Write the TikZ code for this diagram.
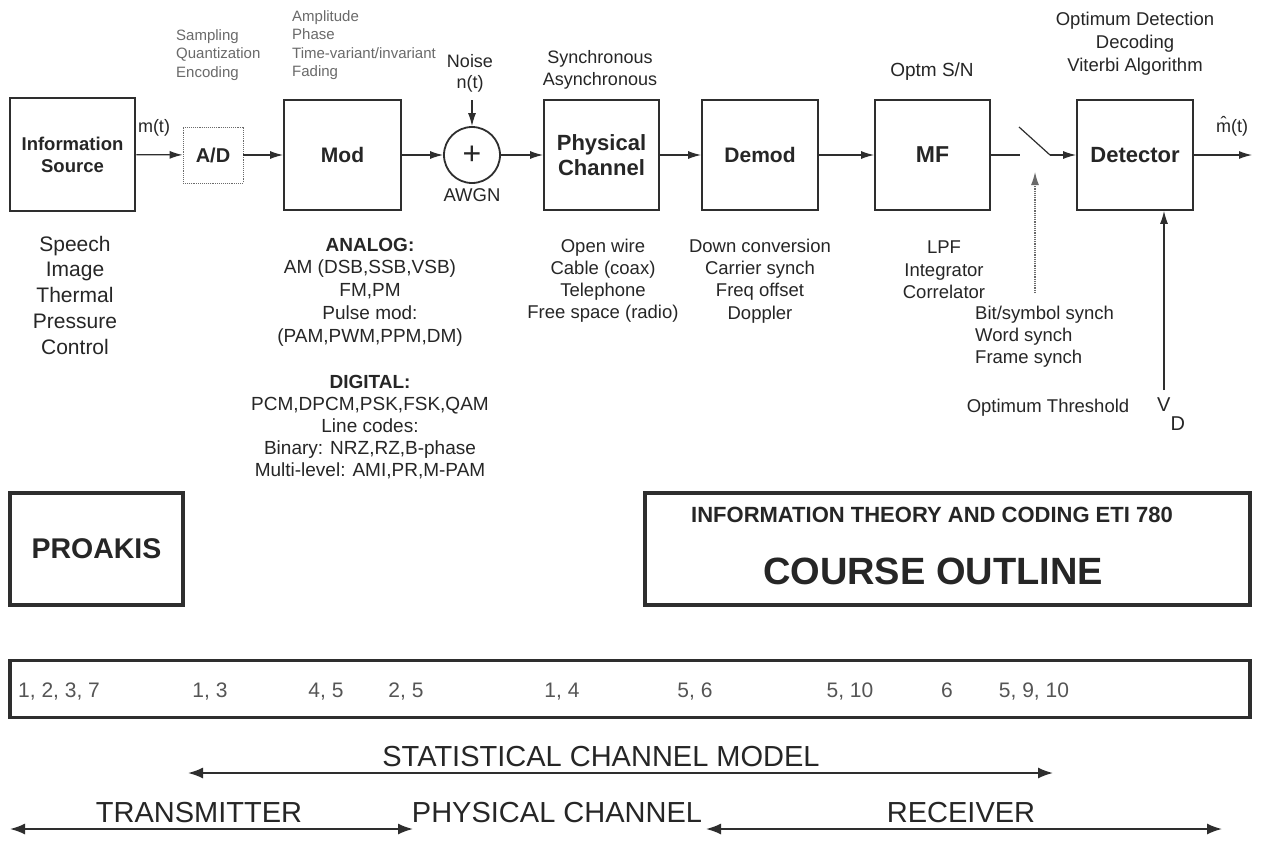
\documentclass[tikz,border=0pt]{standalone}
\usepackage{fontspec}
\setmainfont{Liberation Sans}
\usetikzlibrary{arrows.meta}
\definecolor{ln}{HTML}{2E2E2E}
\definecolor{tx}{HTML}{262626}
\definecolor{lt}{HTML}{6A6A6A}
\definecolor{md}{HTML}{555555}
\newcommand{\fsz}[2]{\fontsize{#1}{#2}\selectfont}
\begin{document}
\begin{tikzpicture}[x=1pt,y=-1pt,
 blk/.style={draw=ln,line width=1.8pt,inner sep=0pt,minimum width=116pt,minimum height=110pt,align=center,text=tx,font=\bfseries\fsz{21}{24}},
 arr/.style={draw=ln,line width=1.2pt,-{Latex[length=13pt,width=8pt]}},
 dbl/.style={draw=ln,line width=1.7pt,{Latex[length=15pt,width=11pt]}-{Latex[length=15pt,width=11pt]}},
 lbl/.style={text=tx,align=center,inner sep=0pt},
 small/.style={text=lt,align=left,inner sep=0pt,font=\fsz{15}{18.5}},
 mid/.style={lbl,font=\fsz{18.5}{22.3}},
 bigbox/.style={draw=ln,line width=3.5pt,inner sep=0pt},
 num/.style={text=md,inner sep=0pt,anchor=base,font=\fsz{21}{24}},
 caplbl/.style={text=tx,inner sep=0pt,font=\fsz{29}{32}}
]
\useasboundingbox[fill=white] (0,0) rectangle (1265,841);

% main chain
\node[blk,line width=2.8pt,minimum width=125pt,minimum height=113pt,font=\bfseries\fsz{18.5}{22}] (src) at (72.5,154.5) {Information\\Source};
\node[draw=lt,densely dotted,line width=0.9pt,minimum width=60pt,minimum height=56pt,inner sep=0pt,font=\bfseries\fsz{20}{24},text=tx] (ad) at (213,155) {A/D};
\node[blk,minimum width=117pt] (mod) at (342.5,155) {Mod};
\node[draw=ln,line width=1.8pt,circle,minimum size=56pt,inner sep=0pt,font=\fsz{32}{32},text=tx] (sum) at (472,155) {+};
\node[blk,minimum width=115pt,font=\bfseries\fsz{22}{25}] (phy) at (601.5,155) {Physical\\Channel};
\node[blk] (dem) at (760,155) {Demod};
\node[blk,minimum width=115pt,font=\bfseries\fsz{23}{26}] (mf) at (932.5,155) {MF};
\node[blk,font=\bfseries\fsz{22}{25}] (det) at (1135,155) {Detector};

\draw[arr] (src) -- (ad);
\draw[arr] (ad) -- (mod);
\draw[arr] (mod) -- (sum);
\draw[arr] (sum) -- (phy);
\draw[arr] (phy) -- (dem);
\draw[arr] (dem) -- (mf);
\coordinate (sA) at (1020,155);
\coordinate (sB) at (1019,127);
\coordinate (sC) at (1050,155);
\draw[draw=ln,line width=1.2pt] (mf) -- (sA);
\draw[draw=ln,line width=1.2pt] (sB) -- (sC);
\draw[arr] (sC) -- (det);
\coordinate (out) at (1252,155);
\draw[arr] (det) -- (out);
\coordinate (nz) at (472,100);
\draw[arr] (nz) -- (sum);
\coordinate (clk) at (1035,293);
\coordinate (clkt) at (1035,172);
\draw[arr,draw=lt,densely dotted] (clk) -- (clkt);
\coordinate (vd) at (1164,390);
\draw[arr] (vd) -- (vd |- det.south);

% labels around chain
\node[lbl,font=\fsz{18}{20}] (mt) at (154,128) {m(t)};
\node[lbl,font=\fsz{18}{20}] (mht) at (1232,126) {\^{m}(t)};
\node[small,anchor=west] (samp) at (176,55) {Sampling\\Quantization\\Encoding};
\node[small,anchor=west] (ampl) at (292,45) {Amplitude\\Phase\\Time-variant/invariant\\Fading};
\node[mid,font=\fsz{18}{22}] (sync) at (600,70) {Synchronous\\Asynchronous};
\node[mid,font=\fsz{18}{21}] (noise) at (470,73) {Noise\\n(t)};
\node[mid] (awgn) at (472,195) {AWGN};
\node[mid,font=\fsz{19}{22}] (optm) at (932,72) {Optm S/N};
\node[mid,font=\fsz{18.5}{23}] (optd) at (1135,44) {Optimum Detection\\Decoding\\Viterbi Algorithm};

\node[lbl,font=\fsz{21}{25.75}] (spch) at (75,295) {Speech\\Image\\Thermal\\Pressure\\Control};
\node[lbl,font=\fsz{19}{22.75}] (ana) at (370,292) {\textbf{ANALOG:}\\AM (DSB,SSB,VSB)\\FM,PM\\Pulse mod:\\(PAM,PWM,PPM,DM)};
\node[lbl,font=\fsz{19}{22}] (dig) at (370,427) {\textbf{DIGITAL:}\\PCM,DPCM,PSK,FSK,QAM\\Line codes:\\Binary: NRZ,RZ,B-phase\\Multi-level: AMI,PR,M-PAM};
\node[mid,font=\fsz{18.5}{22}] (chan) at (603,281) {Open wire\\Cable (coax)\\Telephone\\Free space (radio)};
\node[mid,font=\fsz{18.5}{22.3}] (demt) at (760,281) {Down conversion\\Carrier synch\\Freq offset\\Doppler};
\node[mid,font=\fsz{18.5}{22.5}] (mft) at (944,270) {LPF\\Integrator\\Correlator};
\node[mid,font=\fsz{18.5}{22}, align=left,anchor=west] (synt) at (975,337) {Bit/symbol synch\\Word synch\\Frame synch};
\node[mid] (thr) at (1048,408) {Optimum Threshold};
\node[mid,font=\fsz{20}{22},anchor=base west] (vdl) at (1157,411) {V\raisebox{-19pt}{D}};

% lower part
\node[bigbox,minimum width=173pt,minimum height=112pt,font=\bfseries\fsz{28.5}{32},text=tx] (prk) at (96.5,549) {PROAKIS};
\node[bigbox,minimum width=605pt,minimum height=112pt] (crs) at (947.5,549) {};
\node[lbl,font=\bfseries\fsz{22}{26}] (ititle) at (932,515) {INFORMATION THEORY AND CODING ETI 780};
\node[lbl,font=\bfseries\fsz{38}{42}] (cout) at (933,571) {COURSE OUTLINE};

\node[bigbox,minimum width=1240pt,minimum height=57pt] (nums) at (630,689) {};
\node[num,anchor=base west] (n1) at (18,697) {1, 2, 3, 7};
\node[num] (n2) at (210,697) {1, 3};
\node[num] (n3) at (326,697) {4, 5};
\node[num] (n4) at (406,697) {2, 5};
\node[num] (n5) at (562,697) {1, 4};
\node[num] (n6) at (695,697) {5, 6};
\node[num] (n7) at (850,697) {5, 10};
\node[num] (n8) at (947,697) {6};
\node[num] (n9) at (1034,697) {5, 9, 10};

\node[caplbl] (scm) at (601,757) {STATISTICAL CHANNEL MODEL};
\coordinate (s1) at (188,773);
\coordinate (s2) at (1053,773);
\draw[dbl] (s1) -- (s2);
\node[caplbl] (txl) at (199,813) {TRANSMITTER};
\node[caplbl] (pcl) at (557,813) {PHYSICAL CHANNEL};
\node[caplbl] (rxl) at (961,813) {RECEIVER};
\coordinate (t1) at (10,829);
\coordinate (t2) at (413,829);
\draw[dbl] (t1) -- (t2);
\coordinate (r1) at (706,829);
\coordinate (r2) at (1222,829);
\draw[dbl] (r1) -- (r2);
\end{tikzpicture}
\end{document}
